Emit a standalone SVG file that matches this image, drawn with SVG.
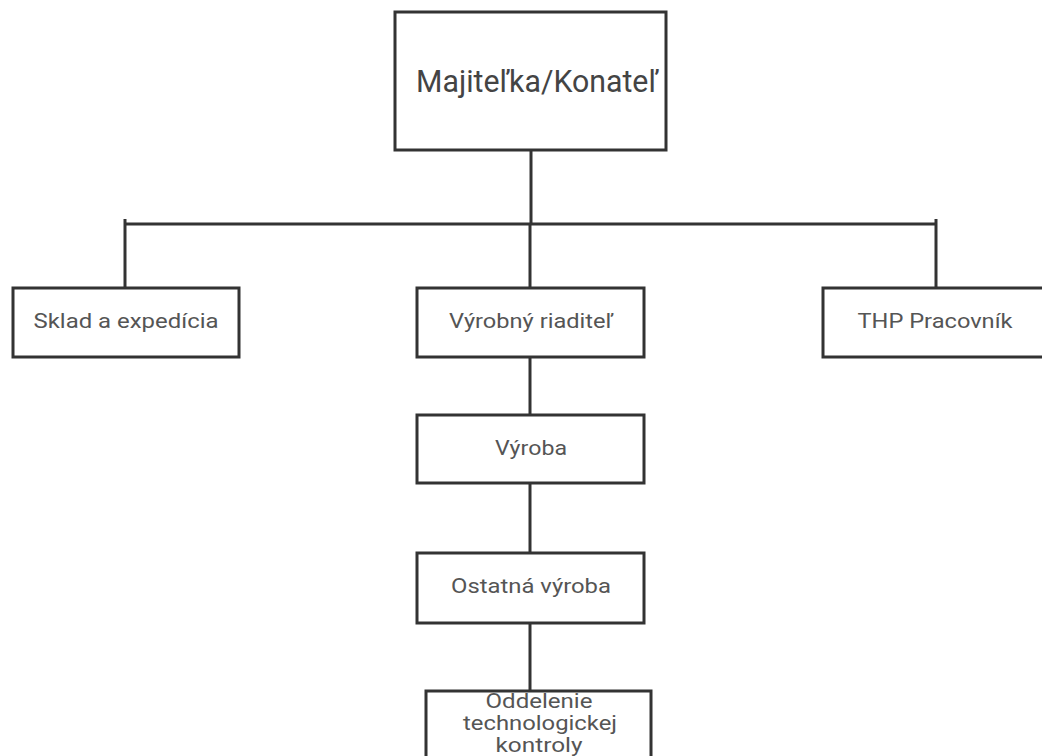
<svg xmlns="http://www.w3.org/2000/svg" width="1042" height="756" viewBox="0 0 1042 756">
<style>
.box{fill:#fff;stroke:#333;stroke-width:3}
.ln{stroke:#333;stroke-width:3;fill:none}
.t{font-family:Roboto,"Liberation Sans",sans-serif;font-size:20.5px;fill:#555;text-anchor:middle}
.big{font-size:31px;fill:#444}
</style>
<rect width="1042" height="756" fill="#fff"/>
<g id="connectors">
<line class="ln" x1="531" y1="150" x2="531" y2="224"/>
<line class="ln" x1="125" y1="224" x2="936" y2="224" stroke-width="2"/>
<line class="ln" x1="125" y1="219" x2="125" y2="288"/>
<line class="ln" x1="530" y1="224" x2="530" y2="288"/>
<line class="ln" x1="936" y1="219" x2="936" y2="288"/>
<line class="ln" x1="530" y1="357" x2="530" y2="415"/>
<line class="ln" x1="530" y1="483" x2="530" y2="553"/>
<line class="ln" x1="530" y1="623" x2="530" y2="691"/>
</g>
<g id="majitelka"><rect class="box" x="395" y="12" width="271" height="138"/><text class="t big" x="537" y="92" textLength="242" lengthAdjust="spacingAndGlyphs">Majiteľka/Konateľ</text></g>
<g id="sklad"><rect class="box" x="13" y="288" width="226" height="69"/><text class="t" x="126" y="328" textLength="185" lengthAdjust="spacingAndGlyphs">Sklad a expedícia</text></g>
<g id="vyrobny"><rect class="box" x="417" y="288" width="227" height="69"/><text class="t" x="531" y="328" textLength="164" lengthAdjust="spacingAndGlyphs">Výrobný riaditeľ</text></g>
<g id="thp"><rect class="box" x="823" y="288" width="226" height="69"/><text class="t" x="935" y="328" textLength="155" lengthAdjust="spacingAndGlyphs">THP Pracovník</text></g>
<g id="vyroba"><rect class="box" x="417" y="415" width="227" height="68"/><text class="t" x="531" y="455" textLength="72" lengthAdjust="spacingAndGlyphs">Výroba</text></g>
<g id="ostatna"><rect class="box" x="417" y="553" width="227" height="70"/><text class="t" x="531" y="593" textLength="160" lengthAdjust="spacingAndGlyphs">Ostatná výroba</text></g>
<g id="oddelenie"><rect class="box" x="426" y="691" width="225" height="80"/><text class="t" x="539" y="708" textLength="107" lengthAdjust="spacingAndGlyphs">Oddelenie</text><text class="t" x="540" y="730" textLength="154" lengthAdjust="spacingAndGlyphs">technologickej</text><text class="t" x="539" y="752" textLength="87" lengthAdjust="spacingAndGlyphs">kontroly</text></g>
</svg>
